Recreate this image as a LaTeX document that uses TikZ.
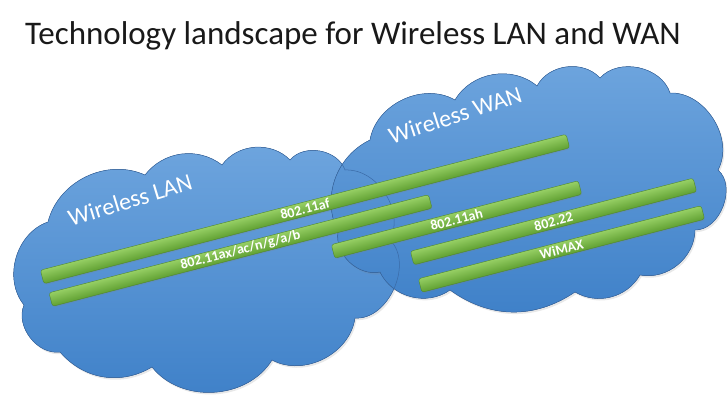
\documentclass[tikz,border=0pt]{standalone}
\usepackage{fontspec}
\setmainfont{Carlito}
\usetikzlibrary{shadows}

\definecolor{skytop}{RGB}{110,165,222}
\definecolor{skybot}{RGB}{62,128,200}
\definecolor{skyline}{RGB}{58,106,166}
\definecolor{bandtop}{RGB}{150,207,100}
\definecolor{bandbot}{RGB}{96,160,50}
\definecolor{bandline}{RGB}{80,136,42}
\definecolor{titleink}{RGB}{25,25,25}

% cloud outlines, lobe by lobe (clockwise)
\newcommand\lanshape{(24,305) to[bend left=55] (48,222) to[bend left=50] (145,175)
  to[bend left=45] (222,165) to[bend left=50] (290,160) to[bend left=60] (345,170)
  to[bend left=60] (390,240) to[bend left=70] (355,318) to[bend left=55] (272,360)
  to[bend left=55] (152,367) to[bend left=40] (60,352) to[bend left=60] (24,305) -- cycle}
\newcommand\wanshape{(338,232) to[bend left=45] (370,140) to[bend left=55] (455,100)
  to[bend left=50] (537,86) to[bend left=55] (600,78) to[bend left=60] (670,93)
  to[bend left=60] (718,170) to[bend left=70] (695,230) to[bend left=50] (640,275)
  to[bend left=45] (575,292) to[bend left=35] (450,290) to[bend left=50] (380,272)
  to[bend left=55] (338,232) -- cycle}

\begin{document}
\begin{tikzpicture}[
  x=1pt, y=-1pt,
  sky/.style={top color=skytop, bottom color=skybot,
              drop shadow={opacity=0.18, shadow xshift=1.5pt, shadow yshift=-2pt}},
  rim/.style={draw=skyline, line width=0.5pt},
  lay/.style={transform canvas={shift={(#1)}, rotate=14.5}},
  tech/.style={rectangle, rounded corners=2.5pt, minimum height=14pt, inner sep=0pt,
               top color=bandtop, bottom color=bandbot, draw=bandline, line width=0.4pt,
               text=white, font=\bfseries\fontsize{14}{14}\selectfont,
               drop shadow={opacity=0.25, shadow xshift=0.4pt, shadow yshift=-1.3pt}},
  tag/.style={text=white, inner sep=0pt, font=\fontsize{24}{24}\selectfont},
]
\useasboundingbox (0,0) rectangle (727,406);

\node[anchor=base west, inner sep=0pt, text=titleink, font=\fontsize{33}{33}\selectfont]
  (title) at (25,45) {Technology landscape for Wireless LAN and WAN};

% the two clouds, rims drawn last so both show in the overlap
\fill[sky] \lanshape;
\fill[sky] \wanshape;
\draw[rim] \lanshape;
\draw[rim] \wanshape;

\node[tag, rotate=17] (lanlbl) at (130,200) {Wireless LAN};
\node[tag, rotate=18] (wanlbl) at (455,115) {Wireless WAN};

% technologies, each bar tilted about its own centre
\begin{scope}[lay={305,209}]
  \node[tech, minimum width=543] (af) at (0,0) {802.11af};
\end{scope}
\begin{scope}[lay={240.5,250.5}]
  \node[tech, minimum width=392] (legacy) at (0,0) {802.11ax/ac/n/g/a/b};
\end{scope}
\begin{scope}[lay={456.5,219.5}]
  \node[tech, minimum width=255] (ah) at (0,0) {802.11ah};
\end{scope}
\begin{scope}[lay={553.5,221.5}]
  \node[tech, minimum width=292] (wran) at (0,0) {802.22};
\end{scope}
\begin{scope}[lay={561.5,249}]
  \node[tech, minimum width=292] (wimax) at (0,0) {WiMAX};
\end{scope}
\end{tikzpicture}
\end{document}
